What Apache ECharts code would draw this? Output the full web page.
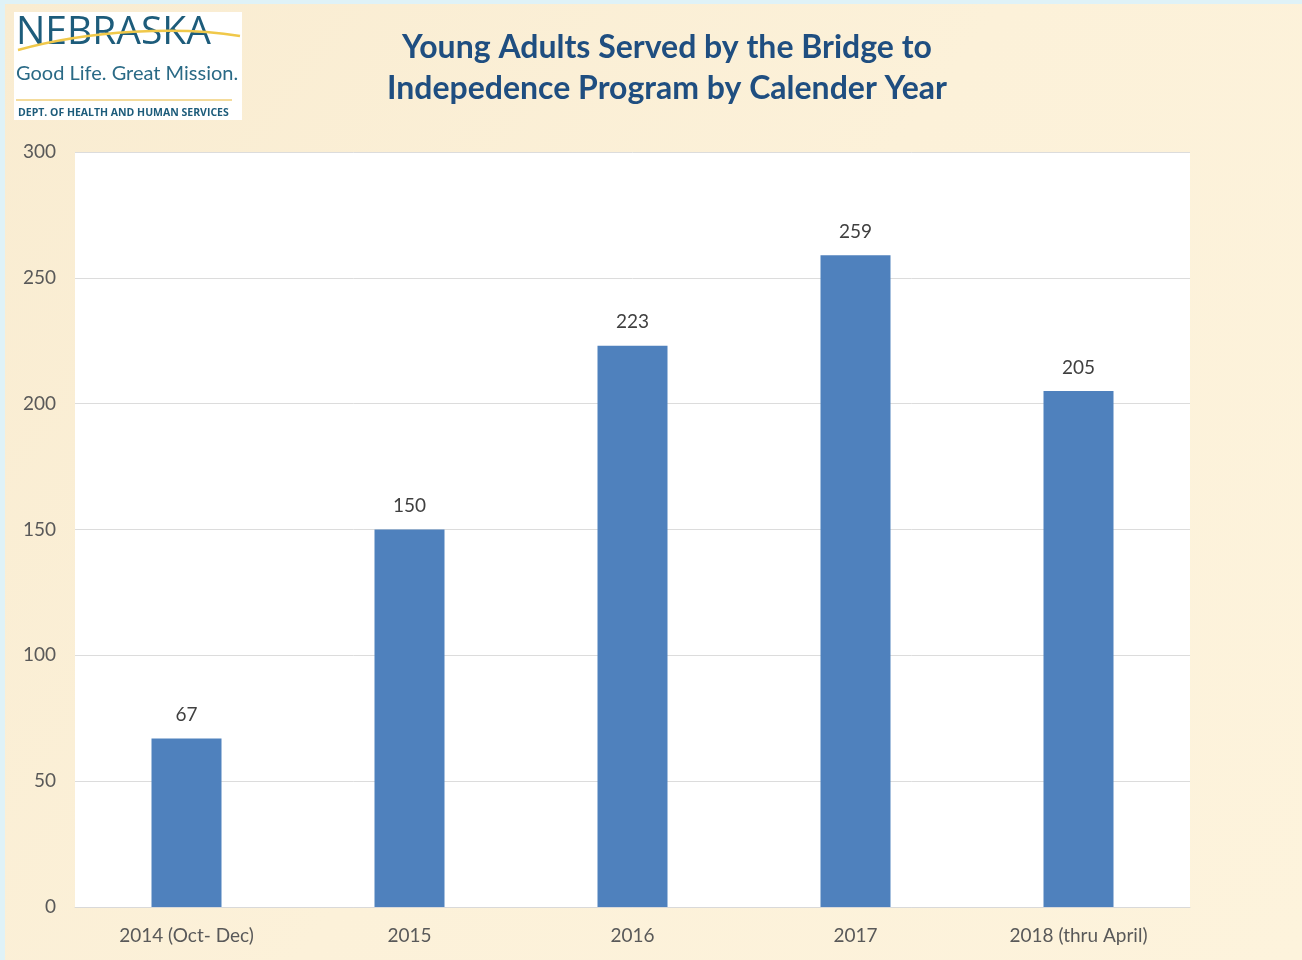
<!DOCTYPE html>
<html>
<head>
<meta charset="utf-8">
<script src="https://cdn.jsdelivr.net/npm/echarts@6/dist/echarts.min.js"></script>
<style>
html,body{margin:0;padding:0;}
body{background:#dff2f7;}
#main{position:absolute;left:0;top:0;width:1302px;height:960px;}
</style>
</head>
<body>
<div id="main"></div>
<script>
const categories = ['2014 (Oct- Dec)', '2015', '2016', '2017', '2018 (thru April)'];
const served = [67, 150, 223, 259, 205];
const yTicks = [0, 50, 100, 150, 200, 250, 300];

const chart = echarts.init(document.getElementById('main'), null, {renderer: 'canvas'});
const option = {
  backgroundColor: 'transparent',
  animation: false,
  graphic: [
    {type: 'rect', z: -10, shape: {x: 5, y: 4, width: 1297, height: 956},
      style: {fill: new echarts.graphic.LinearGradient(0, 0, 1, 1, [
        {offset: 0, color: '#f9ecd1'}, {offset: 0.5, color: '#fcf1d9'}, {offset: 1, color: '#fdf3dc'}])}},
    {type: 'rect', z: 1, shape: {x: 14, y: 12, width: 228, height: 108}, style: {fill: '#ffffff'}},
    {type: 'text', z: 2, left: 16, top: 13, style: {text: 'NEBRASKA', fill: '#1d5c7b', font: '39px "Open Sans", Lato, sans-serif'}},
    {type: 'bezierCurve', z: 3, shape: {x1: 18, y1: 50, x2: 240, y2: 36, cpx1: 90, cpy1: 30, cpx2: 180, cpy2: 26},
      style: {stroke: '#f0c84a', lineWidth: 2.5, fill: null}},
    {type: 'text', z: 2, left: 16, top: 64, style: {text: 'Good Life. Great Mission.', fill: '#2a6a86', font: '20px Lato, "Open Sans", sans-serif'}},
    {type: 'line', z: 2, shape: {x1: 16, y1: 100, x2: 232, y2: 100}, style: {stroke: '#f0cf7a', lineWidth: 1.5}},
    {type: 'text', z: 2, left: 18, top: 108, style: {text: 'DEPT. OF HEALTH AND HUMAN SERVICES', fill: '#1d5c7b', font: 'bold 10.5px "Open Sans", sans-serif'}}
  ],
  title: {
    text: 'Young Adults Served by the Bridge to\nIndepedence Program by Calender Year',
    left: 662, top: 22, textAlign: 'center',
    textStyle: {color: '#1f4e80', fontSize: 32, fontWeight: 'bold', fontFamily: 'Lato, "Open Sans", sans-serif', lineHeight: 41}
  },
  grid: {left: 75, right: 112, top: 152, bottom: 53, show: true, backgroundColor: '#ffffff', borderWidth: 0},
  xAxis: {
    type: 'category', data: categories,
    axisLine: {lineStyle: {color: '#d9d9d9', width: 1}},
    axisTick: {show: false},
    axisLabel: {color: '#595959', fontSize: 19, margin: 19, fontFamily: 'Lato, "Open Sans", sans-serif'}
  },
  yAxis: {
    type: 'value', min: 0, max: 300, interval: 50,
    axisLine: {show: false}, axisTick: {show: false},
    splitLine: {lineStyle: {color: '#dcdcdc', width: 1}},
    axisLabel: {color: '#595959', fontSize: 19, margin: 19, fontFamily: 'Lato, "Open Sans", sans-serif',
      formatter: function (v) { return yTicks.indexOf(v) >= 0 ? String(v) : ''; }}
  },
  series: [{
    type: 'bar', data: served, barWidth: 70,
    itemStyle: {color: '#4f81bd'},
    label: {show: true, position: 'top', distance: 14, color: '#404040', fontSize: 19, fontFamily: 'Lato, "Open Sans", sans-serif'}
  }]
};
chart.setOption(option);
</script>
</body>
</html>
